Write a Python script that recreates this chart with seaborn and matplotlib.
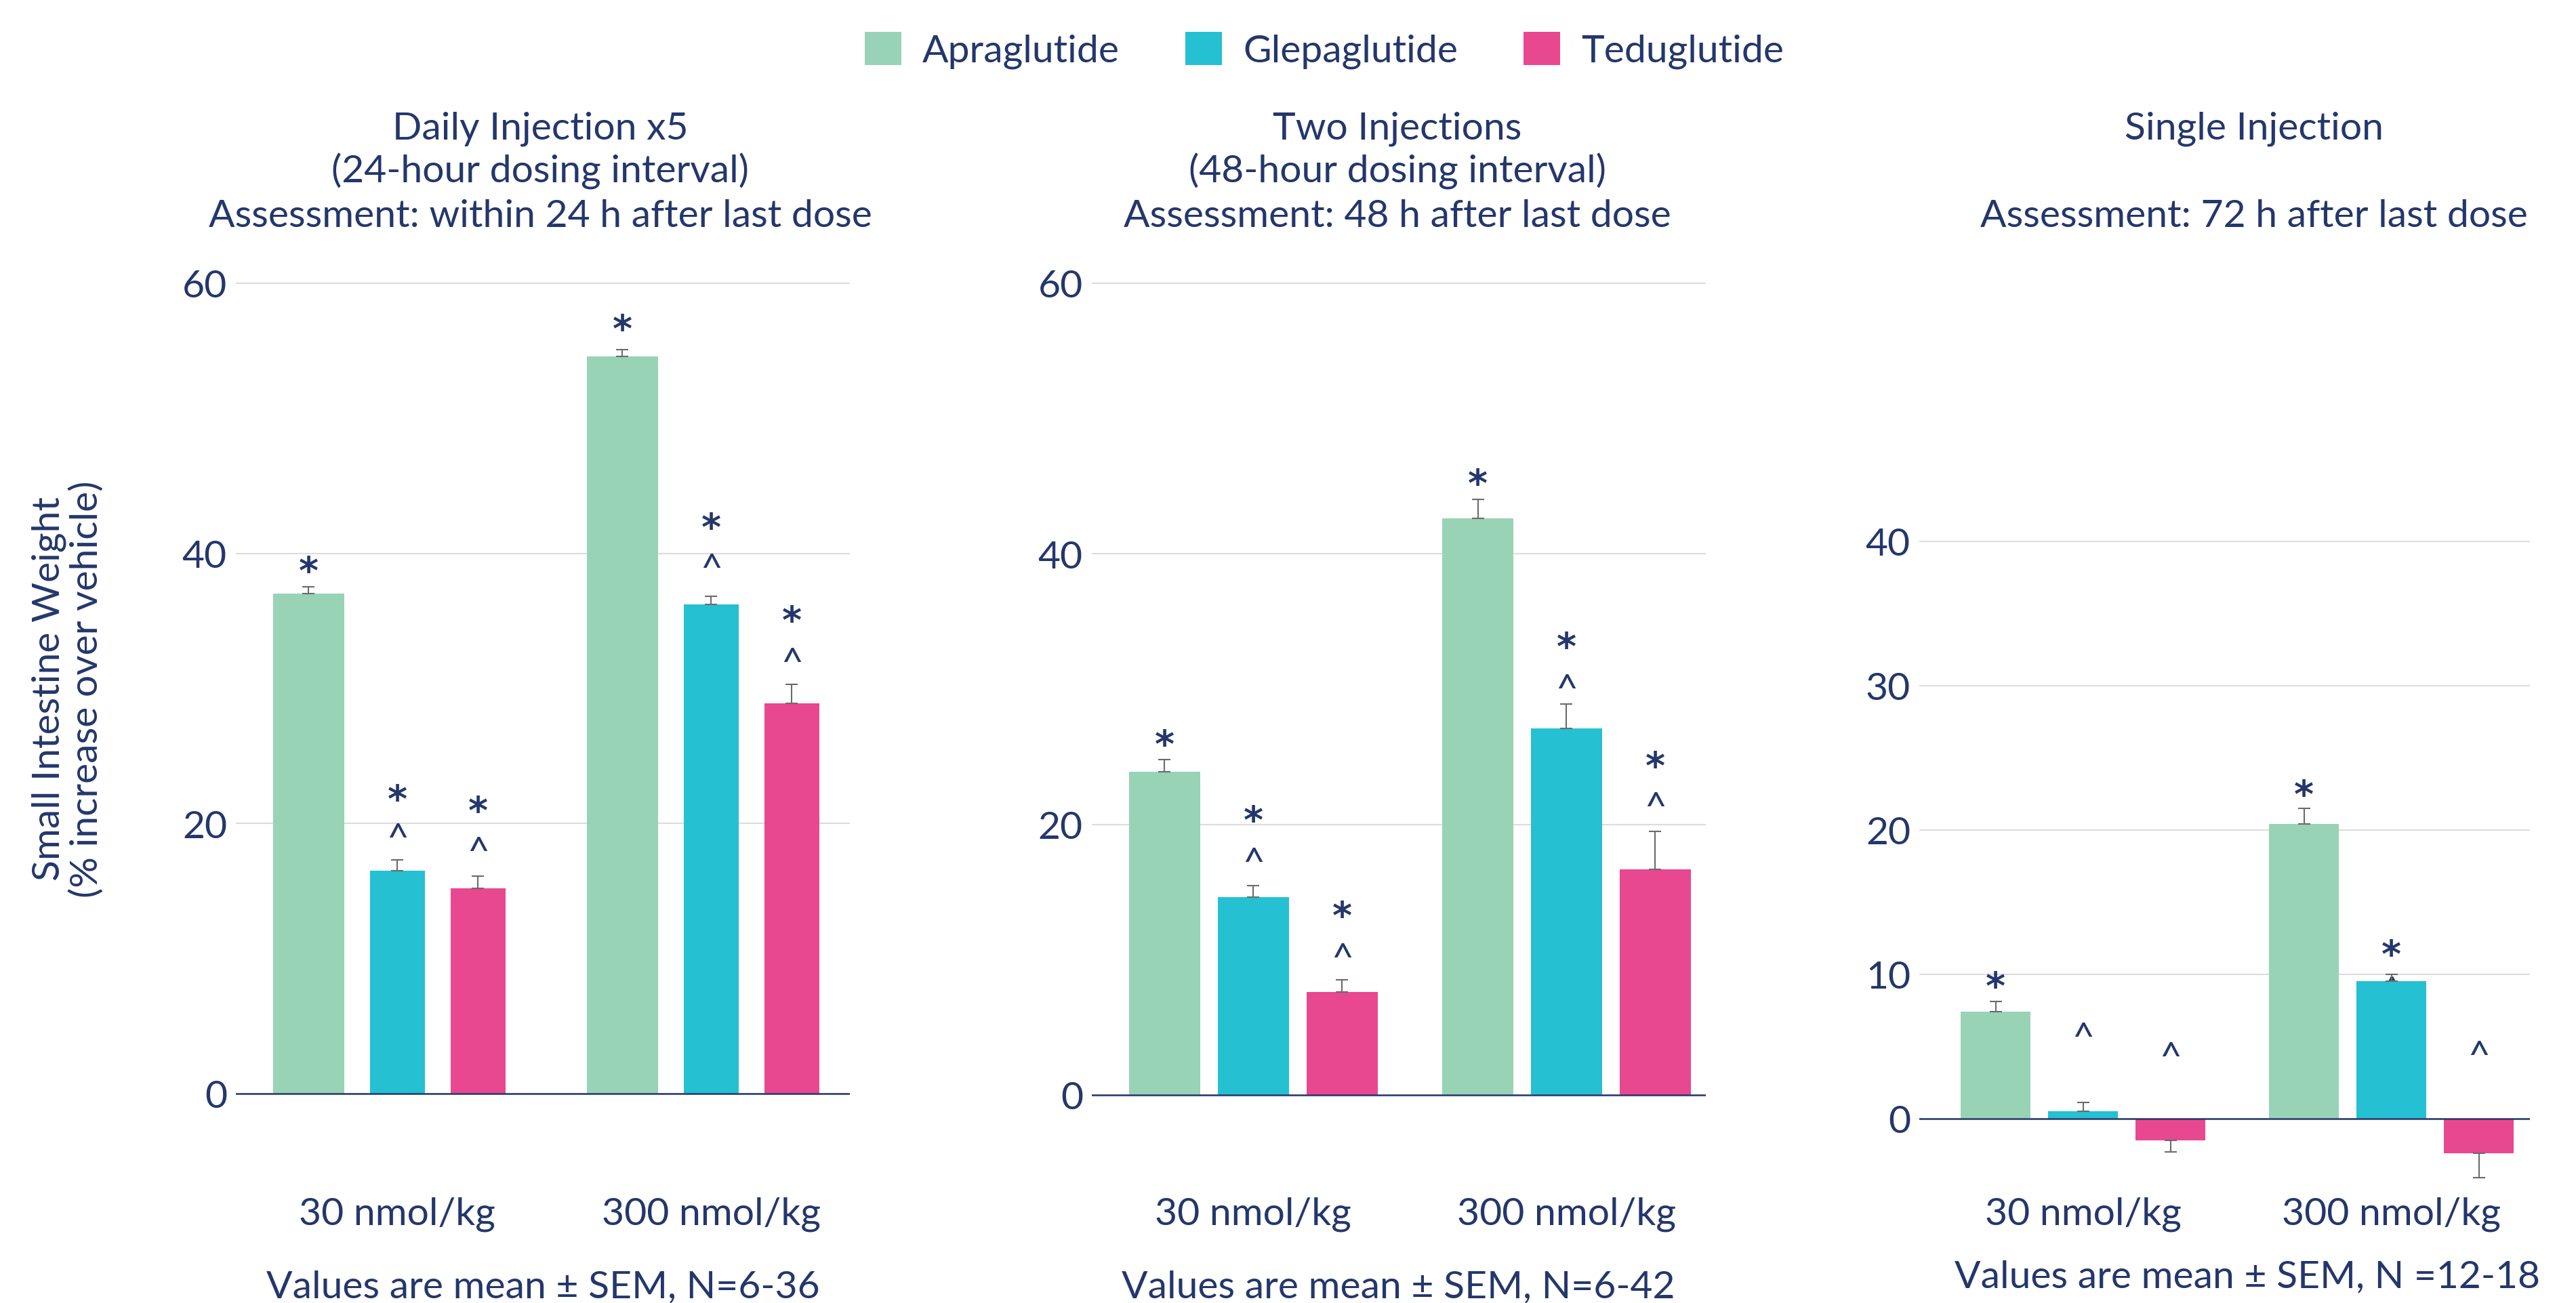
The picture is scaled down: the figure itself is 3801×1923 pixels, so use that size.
import matplotlib
matplotlib.use("Agg")
import matplotlib.pyplot as plt
from matplotlib.patches import Patch
from matplotlib.transforms import ScaledTranslation
import numpy as np
import pandas as pd
import seaborn as sns

# ---------------------------------------------------------------- data
drugs = ["Apraglutide", "Glepaglutide", "Teduglutide"]
doses = ["30 nmol/kg", "300 nmol/kg"]

# rows: drugs, columns: doses (% increase over vehicle)
daily_mean = [[37.0, 54.6], [16.5, 36.2], [15.2, 28.9]]
daily_sem = [[0.55, 0.5], [0.8, 0.6], [0.9, 1.4]]

two_mean = [[23.9, 42.6], [14.6, 27.1], [7.6, 16.7]]
two_sem = [[0.9, 1.4], [0.9, 1.8], [0.9, 2.8]]

single_mean = [[7.4, 20.4], [0.5, 9.5], [-1.5, -2.4]]
single_sem = [[0.7, 1.1], [0.6, 0.5], [0.8, 1.7]]

# significance symbols per bar and the height they are written at
daily_marks = [
    [[("*", 39.5)], [("*", 57.4)]],
    [[("*", 22.6), ("^", 19.5)], [("*", 42.7), ("^", 39.5)]],
    [[("*", 21.7), ("^", 18.5)], [("*", 35.8), ("^", 32.5)]],
]
two_marks = [
    [[("*", 26.7)], [("*", 46.0)]],
    [[("*", 21.1), ("^", 17.8)], [("*", 33.9), ("^", 30.6)]],
    [[("*", 14.0), ("^", 10.7)], [("*", 25.1), ("^", 21.9)]],
]
single_marks = [
    [[("*", 9.9)], [("*", 23.2)]],
    [[("^", 6.2)], [("*", 12.1), ("^", 9.4)]],
    [[("^", 4.8)], [("^", 4.9)]],
]

titles = [
    ["Daily Injection x5", "(24-hour dosing interval)",
     "Assessment: within 24 h after last dose"],
    ["Two Injections", "(48-hour dosing interval)",
     "Assessment: 48 h after last dose"],
    ["Single Injection", "", "Assessment: 72 h after last dose"],
]
notes = ["Values are mean \u00b1 SEM, N=6-36",
         "Values are mean \u00b1 SEM, N=6-42",
         "Values are mean \u00b1 SEM, N =12-18"]
y_label = "Small Intestine Weight\n(% increase over vehicle)"

# ---------------------------------------------------------------- style
W, H, DPI = 3801, 1924, 100
NAVY = "#24376c"
GRID = "#dcdcdc"
ERR = "#6b6b6b"
palette = {"Apraglutide": "#98d3b6", "Glepaglutide": "#25c0d2",
           "Teduglutide": "#e8488f"}
FS = 41

sns.set_style("white")
plt.rcParams["font.family"] = ["Lato", "DejaVu Sans"]
plt.rcParams["text.color"] = NAVY

fig = plt.figure(figsize=(W / DPI, H / DPI), dpi=DPI)
fig.patch.set_facecolor("white")


def px(x, y):
    """figure pixel (from top-left) -> figure fraction"""
    return x / W, 1 - y / H


def panel_axes(left, right, ref_a, ref_b, ylim):
    (va, pa), (vb, pb) = ref_a, ref_b
    ppu = (pb - pa) / (va - vb)
    top = pa - (ylim[1] - va) * ppu
    bot = pa + (va - ylim[0]) * ppu
    ax = fig.add_axes([left / W, 1 - bot / H, (right - left) / W, (bot - top) / H])
    return ax, bot


panels = [
    dict(mean=daily_mean, sem=daily_sem, marks=daily_marks,
         left=348, right=1254, ref=((60, 419), (0, 1615)), ylim=(-4, 61),
         xlim=(-0.515, 1.442), yticks=[0, 20, 40, 60], narrow=True,
         title_x=797, note_x=801, note_y=1915),
    dict(mean=two_mean, sem=two_sem, marks=two_marks,
         left=1611, right=2517, ref=((60, 419), (0, 1617)), ylim=(-4, 61),
         xlim=(-0.516, 1.445), yticks=[0, 20, 40, 60], narrow=False,
         title_x=2062, note_x=2063, note_y=1915),
    dict(mean=single_mean, sem=single_sem, marks=single_marks,
         left=2832, right=3733, ref=((40, 800), (0, 1651.7)), ylim=(-5, 41),
         xlim=(-0.531, 1.449), yticks=[0, 10, 20, 30, 40], narrow=False,
         title_x=3326, note_x=3316, note_y=1900),
]

WIDTH, GAP = 0.85, 0.2
SLOT = WIDTH / len(drugs)
# shift so the glyph's visual centre sits on the requested height
STAR_DROP = ScaledTranslation(0, -33 / DPI, fig.dpi_scale_trans)
CARET_DROP = ScaledTranslation(0, -30 / DPI, fig.dpi_scale_trans)

for k, p in enumerate(panels):
    ax, bot_px = panel_axes(p["left"], p["right"], *p["ref"], p["ylim"])

    df = pd.DataFrame(
        [(dose, drug, p["mean"][i][j])
         for i, drug in enumerate(drugs) for j, dose in enumerate(doses)],
        columns=["dose", "drug", "value"])

    sns.barplot(data=df, x="dose", y="value", hue="drug", order=doses,
                hue_order=drugs, palette=palette, saturation=1,
                width=WIDTH, gap=GAP, errorbar=None, legend=False, ax=ax,
                linewidth=0, zorder=2)

    # locate each bar by its drug / dose slot
    bars = {}
    for patch in ax.patches:
        cx = patch.get_x() + patch.get_width() / 2
        j = int(round(cx))
        i = int(round((cx - j) / SLOT)) + 1
        bars[(i, j)] = patch

    # the daily panel draws the comparator bars narrower
    if p["narrow"]:
        for (i, j), patch in bars.items():
            if i == 0:
                continue
            w0 = patch.get_width()
            w1 = w0 * 0.767
            if i == 1:
                patch.set_x(patch.get_x() + (w0 - w1) / 2)
            patch.set_width(w1)

    for (i, j), patch in bars.items():
        cx = patch.get_x() + patch.get_width() / 2
        m, s = p["mean"][i][j], p["sem"][i][j]
        yerr = [[0], [s]] if m >= 0 else [[s], [0]]
        ax.errorbar([cx], [m], yerr=yerr, fmt="none", ecolor=ERR,
                    elinewidth=1.5, capsize=6.5, capthick=1.5, zorder=3)
        for sym, yv in p["marks"][i][j]:
            hidden = (k == 2 and i == 1 and j == 1 and sym == "^")
            if sym == "*":
                ax.text(cx, yv, sym, ha="center", va="baseline", fontsize=40,
                        fontweight="bold", family="DejaVu Sans", color=NAVY,
                        transform=ax.transData + STAR_DROP, zorder=5)
            else:
                ax.text(cx, yv, sym, ha="center", va="baseline", fontsize=FS,
                        color=NAVY, transform=ax.transData + CARET_DROP,
                        zorder=1 if hidden else 5)

    ax.axhline(0, color=NAVY, lw=1.8, zorder=4)
    ax.set_xlim(*p["xlim"])
    ax.set_ylim(*p["ylim"])
    ax.set_yticks(p["yticks"])
    ax.yaxis.grid(True, color=GRID, lw=1.5)
    ax.xaxis.grid(False)
    ax.set_axisbelow(True)
    for s in ax.spines.values():
        s.set_visible(False)
    ax.set_xlabel("")
    ax.set_ylabel("")
    ax.set_xticks([0, 1])
    ax.set_xticklabels(doses, va="baseline")
    ax.tick_params(axis="x", length=0, labelsize=FS, labelcolor=NAVY,
                   pad=(1808 - bot_px) * 72 / DPI)
    ax.tick_params(axis="y", length=0, labelsize=FS, labelcolor=NAVY,
                   pad=13 * 72 / DPI)
    ax.set_facecolor("white")

    for line, base in zip(titles[k], [205, 270, 335]):
        if line:
            fig.text(*px(p["title_x"], base), line, ha="center",
                     va="baseline", fontsize=FS, color=NAVY)
    fig.text(*px(p["note_x"], p["note_y"]), notes[k], ha="center",
             va="baseline", fontsize=FS, color=NAVY)

fig.text(*px(100, 1017), y_label, rotation=90, ha="center", va="center",
         fontsize=FS, color=NAVY, linespacing=1.1, multialignment="center")

handles = [Patch(facecolor=palette[d], edgecolor="none", label=d) for d in drugs]
fig.legend(handles=handles, loc="center", bbox_to_anchor=px(1954, 75), ncol=3,
           frameon=False, fontsize=FS, handlelength=0.95, handleheight=0.95,
           handletextpad=0.55, columnspacing=1.7, labelcolor=NAVY)

fig.savefig("out.png", dpi=DPI, facecolor="white")
